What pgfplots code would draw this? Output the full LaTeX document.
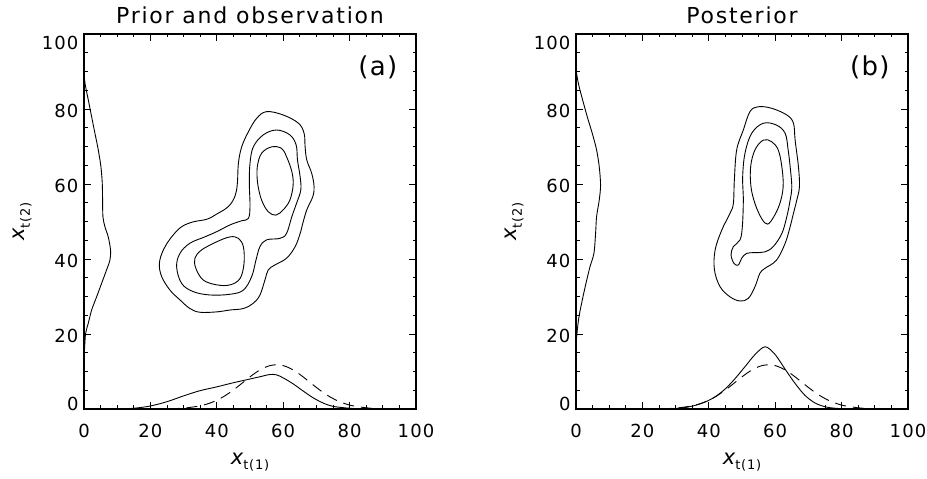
\documentclass[border=0pt]{standalone}
\usepackage{fontspec}
\setmainfont{DejaVu Sans}
\usepackage{pgfplots}
\pgfplotsset{compat=1.18}

\newcommand\lift[2]{\raisebox{#1}[\height][\depth]{#2}}
\newcommand\axlab[2]{{\fontsize{21}{21}\selectfont\itshape #1}\raisebox{-5pt}{\fontsize{13}{13}\selectfont\addfontfeatures{LetterSpace=6}#2}}

\pgfplotsset{
  idl/.style={
    scale only axis, width=332pt, height=375pt,
    xmin=0, xmax=100, ymin=0, ymax=100,
    xtick={0,20,...,100}, ytick={0,20,...,100},
    minor tick num=3,
    tick align=inside,
    major tick length=7pt, minor tick length=3.5pt,
    tick style={black, line width=0.8pt},
    axis line style={line width=1.5pt},
    /pgf/number format/assume math mode=true,
    tick label style={font=\fontsize{18}{18}\selectfont\addfontfeatures{LetterSpace=6}},
    xticklabel style={yshift=-12pt},
    yticklabel style={xshift=-2pt, yshift=-2pt},
    yticklabels={\lift{7pt}{0},20,40,60,80,\lift{-7pt}{100}},
    title style={font=\fontsize{22}{22}\selectfont\addfontfeatures{LetterSpace=8},
      at={(axis description cs:0.5,1)}, anchor=base, yshift=4.7pt},
    xlabel style={at={(axis description cs:0.5,-0.149)}, anchor=base},
    ylabel style={at={(axis description cs:-0.178,0.5)}, anchor=base},
    xlabel={\axlab{x}{t(1)}},
    ylabel={\axlab{x}{t(2)}},
  },
  cnt/.style={black, line width=0.9pt, smooth cycle, tension=0.6},
  mrg/.style={black, line width=0.9pt, smooth, tension=0.5},
  obs/.style={black, line width=0.9pt, smooth, tension=0.5, dash pattern=on 11pt off 7pt},
}

\begin{document}
\begin{tikzpicture}
\useasboundingbox (0,0) rectangle (927pt,479pt);

% ---- (a) prior and observation
\begin{axis}[idl, at={(84pt,70pt)}, anchor=south west, title={Prior and observation}]
  \addplot[cnt] coordinates {(55.0,79.3) (60.0,78.4) (64.6,76.2) (66.3,73.5) (66.6,69.9) (67.1,66.4) (68.6,62.8) (69.3,59.3) (68.9,56.6) (67.1,53.1) (65.9,49.5) (65.1,46.8) (63.6,43.3) (61.0,40.2) (57.5,38.4) (55.5,37.1) (54.5,34.4) (53.0,30.4) (51.0,28.2) (48.0,26.8) (44.0,26.4) (40.0,25.9) (34.9,25.8) (31.9,26.8) (28.9,29.1) (25.9,31.7) (23.4,35.3) (22.7,38.8) (23.9,42.4) (26.4,45.9) (29.4,48.6) (32.9,49.9) (37.0,50.6) (40.0,52.0) (43.5,54.0) (45.5,56.8) (46.2,60.2) (46.5,65.5) (47.5,69.9) (49.5,73.9) (52.0,77.5)};
  \addplot[cnt] coordinates {(58.0,74.4) (62.0,73.1) (63.9,70.4) (64.3,66.4) (65.1,61.9) (65.3,58.4) (64.0,54.8) (62.6,51.3) (61.0,46.8) (59.0,45.5) (55.0,45.1) (53.0,43.3) (51.8,39.7) (50.5,35.3) (48.0,31.7) (44.0,30.6) (38.0,30.4) (32.9,31.3) (29.4,33.5) (27.9,37.9) (28.9,41.5) (31.9,44.2) (36.4,45.9) (40.0,47.3) (44.0,49.1) (47.5,50.2) (49.5,50.8) (50.0,53.9) (49.8,60.2) (50.0,65.5) (51.0,69.9) (54.0,73.1)};
  \addplot[cnt] coordinates {(56.5,69.9) (59.5,69.5) (61.0,67.3) (62.6,63.3) (63.0,59.7) (62.0,55.7) (60.0,53.1) (57.8,51.7) (55.5,52.6) (53.5,55.7) (52.3,60.2) (52.2,64.6) (53.5,68.2)};
  \addplot[cnt] coordinates {(44.0,45.9) (46.5,45.5) (48.0,43.3) (48.2,38.8) (47.0,34.8) (44.0,33.1) (40.0,33.1) (35.9,34.4) (33.7,37.5) (33.4,40.2) (35.4,42.4) (40.0,44.6)};
  % marginals
  \addplot[mrg] coordinates {(0,0) (0,12.3) (0.2,16.6) (0.5,20.2) (1.3,22.9) (2.3,26.4) (3.8,29.9) (5.3,33.5) (6.8,37.1) (7.8,39.7) (8.0,42.4) (7.3,45.9) (6.3,48.6) (5.7,51.3) (5.6,55.7) (5.5,60.2) (5.1,64.6) (4.3,69.1) (3.3,73.5) (2.3,77.9) (1.3,82.4) (0.3,86.9) (0,90.4) (0,100)};
  \addplot[mrg] coordinates {(0,0) (10,0) (15,0.2) (20,0.8) (25,1.95) (30,3.5) (35,4.9) (40,5.9) (45,7.0) (50,8.0) (53,8.6) (56,9.2) (58,9.1) (60,8.3) (63,6.7) (66,4.8) (69,3.0) (72,1.6) (75,0.7) (80,0.2) (85,0) (100,0)};
  \addplot[obs] coordinates {(20,0.01) (25,0.05) (30,0.23) (35,0.84) (38,1.6) (40,2.34) (42,3.28) (44,4.43) (46,5.74) (48,7.16) (50,8.57) (52,9.86) (54,10.89) (56,11.57) (58,11.8) (60,11.57) (62,10.89) (64,9.86) (66,8.57) (68,7.16) (70,5.74) (72,4.43) (74,3.28) (76,2.34) (78,1.6) (81,0.84) (86,0.23) (91,0.05) (96,0.01)};
  \node[font=\fontsize{26}{26}\selectfont\addfontfeatures{LetterSpace=5}] at (axis cs:88.5,91.2) {(a)};
\end{axis}

% ---- (b) posterior
\begin{axis}[idl, at={(576pt,70pt)}, anchor=south west, title={Posterior}]
  \addplot[cnt] coordinates {(54.9,80.6) (58.9,80.2) (63.5,78.4) (65.5,76.2) (66.0,71.7) (67.0,64.6) (67.3,59.3) (66.5,55.7) (65.5,52.2) (64.5,48.6) (63.0,44.2) (60.4,39.7) (56.9,37.5) (55.4,36.2) (53.9,32.6) (51.9,29.5) (49.4,28.8) (46.4,29.9) (43.4,32.6) (41.7,37.1) (41.9,42.4) (43.9,47.7) (46.4,52.2) (47.4,54.8) (47.7,61.1) (48.4,69.1) (50.4,74.4) (52.4,79.3)};
  \addplot[cnt] coordinates {(56.4,76.2) (60.4,75.7) (63.0,73.5) (63.9,69.1) (64.5,64.6) (65.0,59.3) (64.5,55.7) (63.5,51.3) (62.0,46.8) (59.4,43.3) (56.9,41.9) (53.9,41.7) (51.4,41.5) (49.9,40.2) (48.9,38.4) (47.6,38.8) (46.7,41.1) (47.4,43.3) (49.4,45.1) (50.1,48.6) (50.4,55.7) (50.2,61.9) (50.9,68.2) (52.9,73.5)};
  \addplot[cnt] coordinates {(56.4,71.7) (58.9,71.3) (60.9,69.1) (62.0,64.6) (62.4,59.3) (61.4,54.8) (59.6,51.3) (57.7,49.3) (55.9,50.8) (53.9,54.8) (52.7,59.3) (52.6,64.6) (53.9,69.1)};
  % marginals
  \addplot[mrg] coordinates {(0,0) (0,15.7) (0.3,20.2) (0.9,24.6) (1.9,29.1) (3.0,33.5) (4.2,37.9) (5.4,41.5) (5.9,46.8) (6.2,51.3) (7.0,55.7) (7.4,59.7) (7.0,64.6) (6.2,69.1) (4.9,73.5) (3.4,77.9) (2.0,82.4) (0.7,86.9) (0,91.3) (0,100)};
  \addplot[mrg] coordinates {(0,0) (20,0) (25,0.05) (30,0.15) (33,0.4) (36,1.0) (39,1.9) (42,3.3) (45,5.4) (48,8.2) (51,11.4) (54,14.6) (57,16.6) (60,14.5) (63,10.6) (66,6.8) (69,3.6) (72,1.6) (75,0.6) (78,0.2) (82,0.05) (90,0) (100,0)};
  \addplot[obs] coordinates {(20,0.01) (25,0.05) (30,0.23) (35,0.84) (38,1.6) (40,2.34) (42,3.28) (44,4.43) (46,5.74) (48,7.16) (50,8.57) (52,9.86) (54,10.89) (56,11.57) (58,11.8) (60,11.57) (62,10.89) (64,9.86) (66,8.57) (68,7.16) (70,5.74) (72,4.43) (74,3.28) (76,2.34) (78,1.6) (81,0.84) (86,0.23) (91,0.05) (96,0.01)};
  \node[font=\fontsize{26}{26}\selectfont\addfontfeatures{LetterSpace=5}] at (axis cs:88.5,91.2) {(b)};
\end{axis}
\end{tikzpicture}
\end{document}
